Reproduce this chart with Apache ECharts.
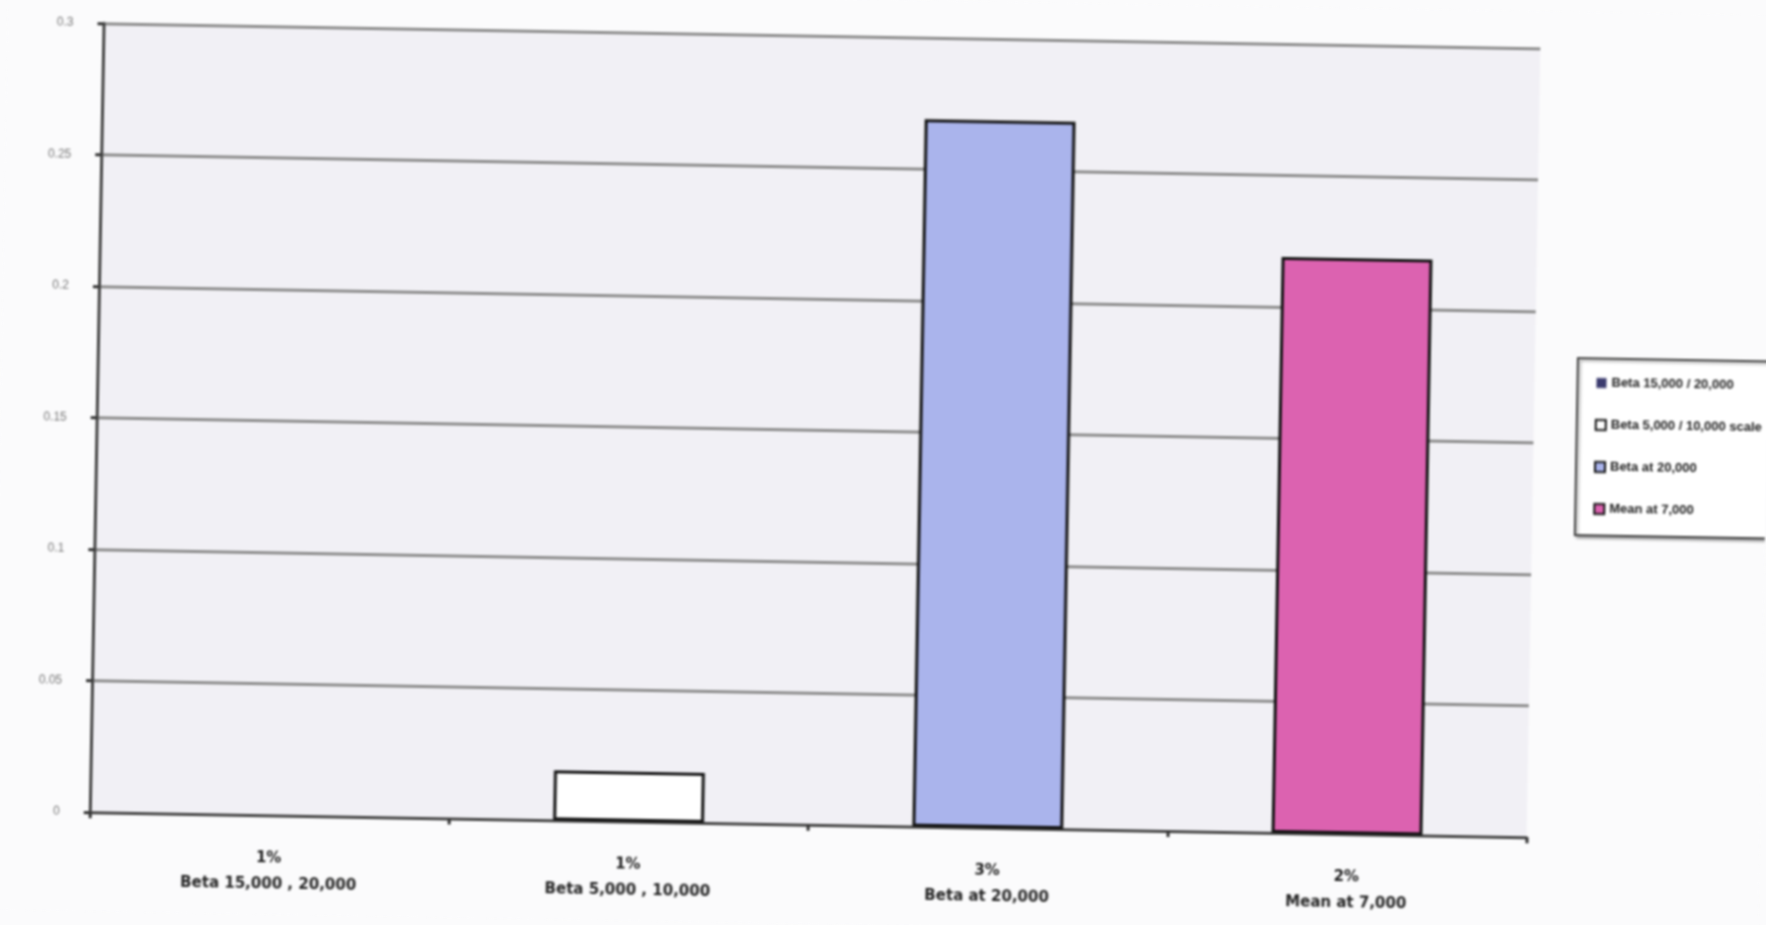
<!DOCTYPE html>
<html>
<head>
<meta charset="utf-8">
<script src="https://cdn.jsdelivr.net/npm/echarts@6/dist/echarts.min.js"></script>
<style>
  html, body { margin: 0; padding: 0; background: #fbfbfc; overflow: hidden; }
  #chart { width: 1766px; height: 925px; transform: rotate(1deg); transform-origin: 50% 50%; filter: blur(0.8px); }
</style>
</head>
<body>
<div id="chart"></div>
<script>
// Categories (rate on first line, scenario on second)
const categories = [
  '1%\nBeta 15,000 , 20,000',
  '1%\nBeta 5,000 , 10,000',
  '3%\nBeta at 20,000',
  '2%\nMean at 7,000'
];
// Legend entries, one series per category
const seriesNames = [
  'Beta 15,000 / 20,000',
  'Beta 5,000 / 10,000 scale',
  'Beta at 20,000',
  'Mean at 7,000'
];
const values = [0, 0.019, 0.269, 0.219];
const barColors = ['#3b3b6e', '#ffffff', '#aab4ec', '#dc62b0'];
const yTicks = [0, 0.05, 0.1, 0.15, 0.2, 0.25, 0.3];

const chart = echarts.init(document.getElementById('chart'));

const series = values.map((v, i) => ({
  name: seriesNames[i],
  type: 'bar',
  stack: 'all',
  barWidth: '42%',
  data: categories.map((c, j) => (j === i ? v : '-')),
  itemStyle: {
    color: barColors[i],
    borderColor: '#111',
    borderWidth: v > 0 ? 3 : 0
  }
}));

chart.setOption({
  animation: false,
  backgroundColor: '#fbfbfc',
  grid: { left: 96, right: 233, top: 37, bottom: 99, show: true, backgroundColor: '#f1f0f5', borderWidth: 0 },
  legend: {
    orient: 'vertical',
    left: 1576,
    top: 346,
    itemWidth: 10,
    itemHeight: 10,
    itemGap: 29,
    icon: 'rect',
    padding: [18, 20, 20, 18],
    backgroundColor: '#ffffff',
    borderColor: '#444',
    borderWidth: 2,
    shadowColor: 'rgba(0,0,0,0.35)',
    shadowOffsetX: 2,
    shadowOffsetY: 2,
    shadowBlur: 3,
    textStyle: { fontFamily: 'Liberation Sans', fontSize: 13, fontWeight: 'bold', color: '#222' },
    data: seriesNames
  },
  xAxis: {
    type: 'category',
    data: categories,
    axisLine: { lineStyle: { color: '#444', width: 3 } },
    axisTick: { show: true, length: 6, lineStyle: { color: '#333', width: 3 } },
    axisLabel: {
      margin: 30, fontFamily: 'DejaVu Sans', fontSize: 15, fontWeight: 'bold', color: '#222', lineHeight: 26
    }
  },
  yAxis: {
    type: 'value',
    min: 0,
    max: 0.3,
    interval: 0.05,
    axisLine: { show: true, lineStyle: { color: '#444', width: 3 } },
    axisTick: { show: true, length: 6, lineStyle: { color: '#333', width: 3 } },
    splitLine: { lineStyle: { color: '#8c8c8c', width: 3 } },
    axisLabel: {
      margin: 30, fontFamily: 'Liberation Sans', fontSize: 12, color: '#777',
      formatter: v => {
        const t = yTicks.find(x => Math.abs(x - v) < 1e-9);
        return t === undefined ? '' : String(t);
      }
    }
  },
  series: series
});
</script>
</body>
</html>
